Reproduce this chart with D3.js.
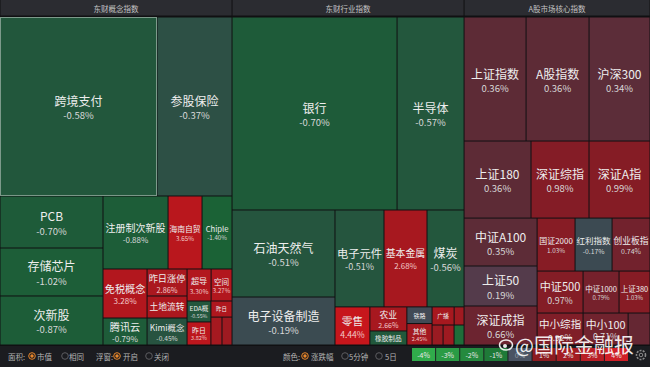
<!DOCTYPE html>
<html>
<head>
<meta charset="utf-8">
<script src="https://cdn.jsdelivr.net/npm/d3@7/dist/d3.min.js"></script>
<style>
html, body { margin: 0; padding: 0; background: #101012; }
svg { display: block; font-family: "Noto Sans CJK SC", "Noto Sans", sans-serif; }
</style>
</head>
<body>
<svg id="chart" width="650" height="367"></svg>
<script>
// 面板标题
const panelTitles = ['东财概念指数', '东财行业指数', 'A股市场核心指数'];

// 东财概念指数
const conceptNames   = ['跨境支付', '参股保险', 'PCB', '存储芯片', '次新股', '注册制次新股', '海南自贸', 'Chiple',
                        '免税概念', '腾讯云', '昨日涨停', '土地流转', 'Kimi概念', '超导', '空间', 'EDA概', '昨日', '昨日', '', ''];
const conceptChanges = [-0.58, -0.37, -0.70, -1.02, -0.87, -0.88, 3.65, -1.40,
                        3.28, -0.79, 2.86, 2.93, -0.45, 3.30, 3.27, -0.55, 3.82, 3.10, 2.60, 2.20];
const conceptCaps    = [2810, 1343, 536, 494, 505, 475, 248, 219,
                        216, 119, 108, 88, 108, 77, 67, 50, 55, 34, 31, 28];

// 东财行业指数
const industryNames   = ['银行', '半导体', '石油天然气', '电子设备制造', '电子元件', '基本金属', '煤炭',
                         '零售', '农业', '橡胶制品', '铁路', '其他', '广播', '', '', '', ''];
const industryChanges = [-0.70, -0.57, -0.51, -0.19, -0.51, 2.68, -0.56,
                         4.44, 2.66, -0.62, -0.08, 2.45, 2.70, 2.30, 2.00, 2.20, -1.80];
const industryCaps    = [3185, 1293, 896, 494, 475, 417, 359,
                         133, 89, 52, 42, 54, 40, 18, 22, 22, 20];

// A股市场核心指数
const indexNames   = ['上证指数', 'A股指数', '沪深300', '上证180', '深证综指', '深证A指', '中证A100', '上证50', '深证成指',
                      '国证2000', '红利指数', '创业板指', '中证500', '中小综指', '中证1000', '上证380', '中小100', ''];
const indexChanges = [0.36, 0.36, 0.34, 0.36, 0.98, 0.99, 0.35, 0.19, 0.66,
                      1.03, -0.17, 0.74, 0.97, 0.92, 0.79, 1.03, 0.71, 0.52];
const indexCaps    = [769, 781, 756, 516, 447, 470, 350, 292, 285,
                      201, 196, 201, 193, 147, 151, 130, 144, 70];

const legendTicks = [-4, -3, -2, -1, 0, 1, 2, 3, 4];
const selected = '跨境支付';

// 切分方式: 'h' 横向并排, 'v' 纵向堆叠, 数字为叶子序号
const conceptTiling = ['v', ['h', 0, 1], ['h', ['v', 2, 3, 4], ['v', ['h', 5, 6, 7],
  ['h', ['v', 8, 9], ['v', 10, 11, 12], ['v', ['h', 13, 14], ['h', ['v', 15, 16], ['v', 17, ['h', 18, 19]]]]]]]];
const industryTiling = ['v', ['h', 0, 1], ['h', ['v', 2, 3], ['v', ['h', 4, 5, 6],
  ['h', 7, ['v', 8, 9], ['v', 10, 11], ['v', ['h', 12, 13], ['h', 14, 15, 16]]]]]];
const indexTiling = ['v', ['h', 0, 1, 2], ['h', 3, 4, 5], ['h', ['v', 6, 7, 8],
  ['v', ['h', 9, 10, 11], ['h', ['v', 12, 13], ['v', ['h', 14, 15], ['h', 16, 17]]]]]];

const W = 650, mapH = 345, headH = 17;
const svg = d3.select('#chart');

function build(spec, names, changes, caps) {
    if (typeof spec === 'number') return { name: names[spec], change: changes[spec], cap: caps[spec] };
    return { dir: spec[0], children: spec.slice(1).map(s => build(s, names, changes, caps)) };
}

const panels = [
    build(conceptTiling, conceptNames, conceptChanges, conceptCaps),
    build(industryTiling, industryNames, industryChanges, industryCaps),
    build(indexTiling, indexNames, indexChanges, indexCaps)
];
panels.forEach((p, i) => p.title = panelTitles[i]);

const root = d3.hierarchy({ dir: 'h', children: panels }).sum(d => d.cap || 0);

d3.treemap()
    .size([W, mapH])
    .paddingTop(d => d.depth === 1 ? headH : 0)
    .tile((node, x0, y0, x1, y1) =>
        (node.data.dir === 'v' ? d3.treemapSlice : d3.treemapDice)(node, x0, y0, x1, y1))(root);

// 涨跌幅颜色
const color = d3.scaleLinear()
    .domain([-4, -1.4, -0.7, -0.45, -0.17, 0, 0.2, 0.36, 0.66, 1, 2, 3, 4.5])
    .range(['#2eaa4a', '#1b6236', '#1e5b39', '#275340', '#3c4a52', '#454a57', '#553a4a',
            '#5d2b36', '#6c2430', '#861c25', '#9a1b22', '#ad171e', '#c8161c'])
    .clamp(true);

// 面板标题栏
const head = svg.append('g');
head.selectAll('rect').data(root.children).join('rect')
    .attr('x', d => d.x0 + 0.5).attr('y', 0)
    .attr('width', d => d.x1 - d.x0 - 1).attr('height', headH - 1.5)
    .attr('fill', '#2b2c31');
head.selectAll('text').data(root.children).join('text')
    .attr('x', d => (d.x0 + d.x1) / 2).attr('y', 8.5)
    .attr('text-anchor', 'middle').attr('dominant-baseline', 'central')
    .attr('font-size', 7.5).attr('fill', '#c4c4c4')
    .text(d => d.data.title);

// 方块
const units = s => Array.from(s).reduce((a, c) => a + (/[\u0000-\u00ff]/.test(c) ? 0.6 : 1), 0);
const cells = svg.append('g').selectAll('g').data(root.leaves()).join('g');

cells.append('rect')
    .attr('x', d => d.x0 + 0.5).attr('y', d => d.y0 + 0.5)
    .attr('width', d => Math.max(0, d.x1 - d.x0 - 1))
    .attr('height', d => Math.max(0, d.y1 - d.y0 - 1))
    .attr('fill', d => color(d.data.change))
    .attr('stroke', d => d.data.name === selected ? '#7d9a8b' : 'none')
    .attr('stroke-width', 1);

cells.each(function(d) {
    const w = d.x1 - d.x0, h = d.y1 - d.y0;
    if (!d.data.name || w < 14 || h < 10) return;
    const fs = Math.min(12, w * 0.92 / units(d.data.name), h * 0.5, Math.sqrt(w * h) / 3.4);
    if (fs < 5) return;
    const fs2 = Math.min(9.5, fs * 0.8);
    const cx = (d.x0 + d.x1) / 2, cy = (d.y0 + d.y1) / 2;
    const showPct = fs >= 6 && h > fs + fs2 + 7.5;
    const g = d3.select(this);
    g.append('text')
        .attr('x', cx).attr('y', showPct ? cy - fs * 0.5 : cy)
        .attr('text-anchor', 'middle').attr('dominant-baseline', 'central')
        .attr('font-size', fs).attr('fill', '#eeeeee')
        .text(d.data.name);
    if (showPct) {
        g.append('text')
            .attr('x', cx).attr('y', cy + fs2 * 0.9)
            .attr('text-anchor', 'middle').attr('dominant-baseline', 'central')
            .attr('font-size', fs2).attr('fill', d.data.change > 1.5 ? '#f2caca' : '#d8d8d8')
            .text(d.data.change.toFixed(2) + '%');
    }
});

// 底部工具栏
const bar = svg.append('g');
bar.append('rect').attr('x', 0).attr('y', mapH + 1).attr('width', W).attr('height', 367 - mapH - 1).attr('fill', '#1b1c20');

const barY = 356;
const barItems = [
    { type: 'label', x: 8, text: '面积:' },
    { type: 'radio', x: 32, on: true }, { type: 'label', x: 37, text: '市值' },
    { type: 'radio', x: 65, on: false }, { type: 'label', x: 69, text: '相同' },
    { type: 'label', x: 96, text: '浮窗:' },
    { type: 'radio', x: 117, on: true }, { type: 'label', x: 123, text: '开启' },
    { type: 'radio', x: 149, on: false }, { type: 'label', x: 154, text: '关闭' },
    { type: 'label', x: 283, text: '颜色:' },
    { type: 'radio', x: 305, on: true }, { type: 'label', x: 311, text: '涨跌幅' },
    { type: 'radio', x: 345, on: false }, { type: 'label', x: 349, text: '5分钟' },
    { type: 'radio', x: 379, on: false }, { type: 'label', x: 385, text: '5日' }
];
barItems.forEach(it => {
    if (it.type === 'label') {
        bar.append('text').attr('x', it.x).attr('y', barY)
            .attr('dominant-baseline', 'central').attr('font-size', 7.5).attr('fill', '#b4b4b4')
            .text(it.text);
    } else {
        bar.append('circle').attr('cx', it.x).attr('cy', barY).attr('r', 3.3)
            .attr('fill', 'none').attr('stroke', it.on ? '#e8862a' : '#5c5c60').attr('stroke-width', 1);
        if (it.on) bar.append('circle').attr('cx', it.x).attr('cy', barY).attr('r', 1.7).attr('fill', '#e8862a');
    }
});

// 图例
const legendColor = d3.scaleLinear()
    .domain([-4, -1, 0, 1, 4])
    .range(['#30ab4b', '#1f7a38', '#4a5363', '#8c1b20', '#d01f27']);
const lx = d3.scaleBand().domain(legendTicks).range([412, 628]).paddingInner(0.04);
bar.selectAll('.lg').data(legendTicks).join('rect').attr('class', 'lg')
    .attr('x', d => lx(d)).attr('y', 348).attr('width', lx.bandwidth()).attr('height', 13)
    .attr('fill', d => legendColor(d));
bar.selectAll('.lt').data(legendTicks).join('text').attr('class', 'lt')
    .attr('x', d => lx(d) + lx.bandwidth() / 2).attr('y', 354.5)
    .attr('text-anchor', 'middle').attr('dominant-baseline', 'central')
    .attr('font-size', 7).attr('fill', d => d === 0 ? '#9aa0aa' : '#e6e6e6')
    .text(d => d + '%');

// 设置图标
bar.append('circle').attr('cx', 641).attr('cy', 355).attr('r', 4.5)
    .attr('fill', 'none').attr('stroke', '#8a8a8a').attr('stroke-width', 1.6).attr('stroke-dasharray', '2 1.2');
bar.append('circle').attr('cx', 641).attr('cy', 355).attr('r', 1.8)
    .attr('fill', 'none').attr('stroke', '#8a8a8a').attr('stroke-width', 1);

// 水印
const wm = svg.append('g').attr('opacity', 0.9);
wm.append('ellipse').attr('cx', 506).attr('cy', 345).attr('rx', 6.5).attr('ry', 5)
    .attr('fill', 'none').attr('stroke', '#ffffff').attr('stroke-width', 1.6);
wm.append('circle').attr('cx', 505).attr('cy', 346).attr('r', 2).attr('fill', '#ffffff');
wm.append('text').attr('x', 515).attr('y', 344)
    .attr('dominant-baseline', 'central').attr('font-size', 20).attr('fill', '#ffffff')
    .text('@国际金融报');
</script>
</body>
</html>
